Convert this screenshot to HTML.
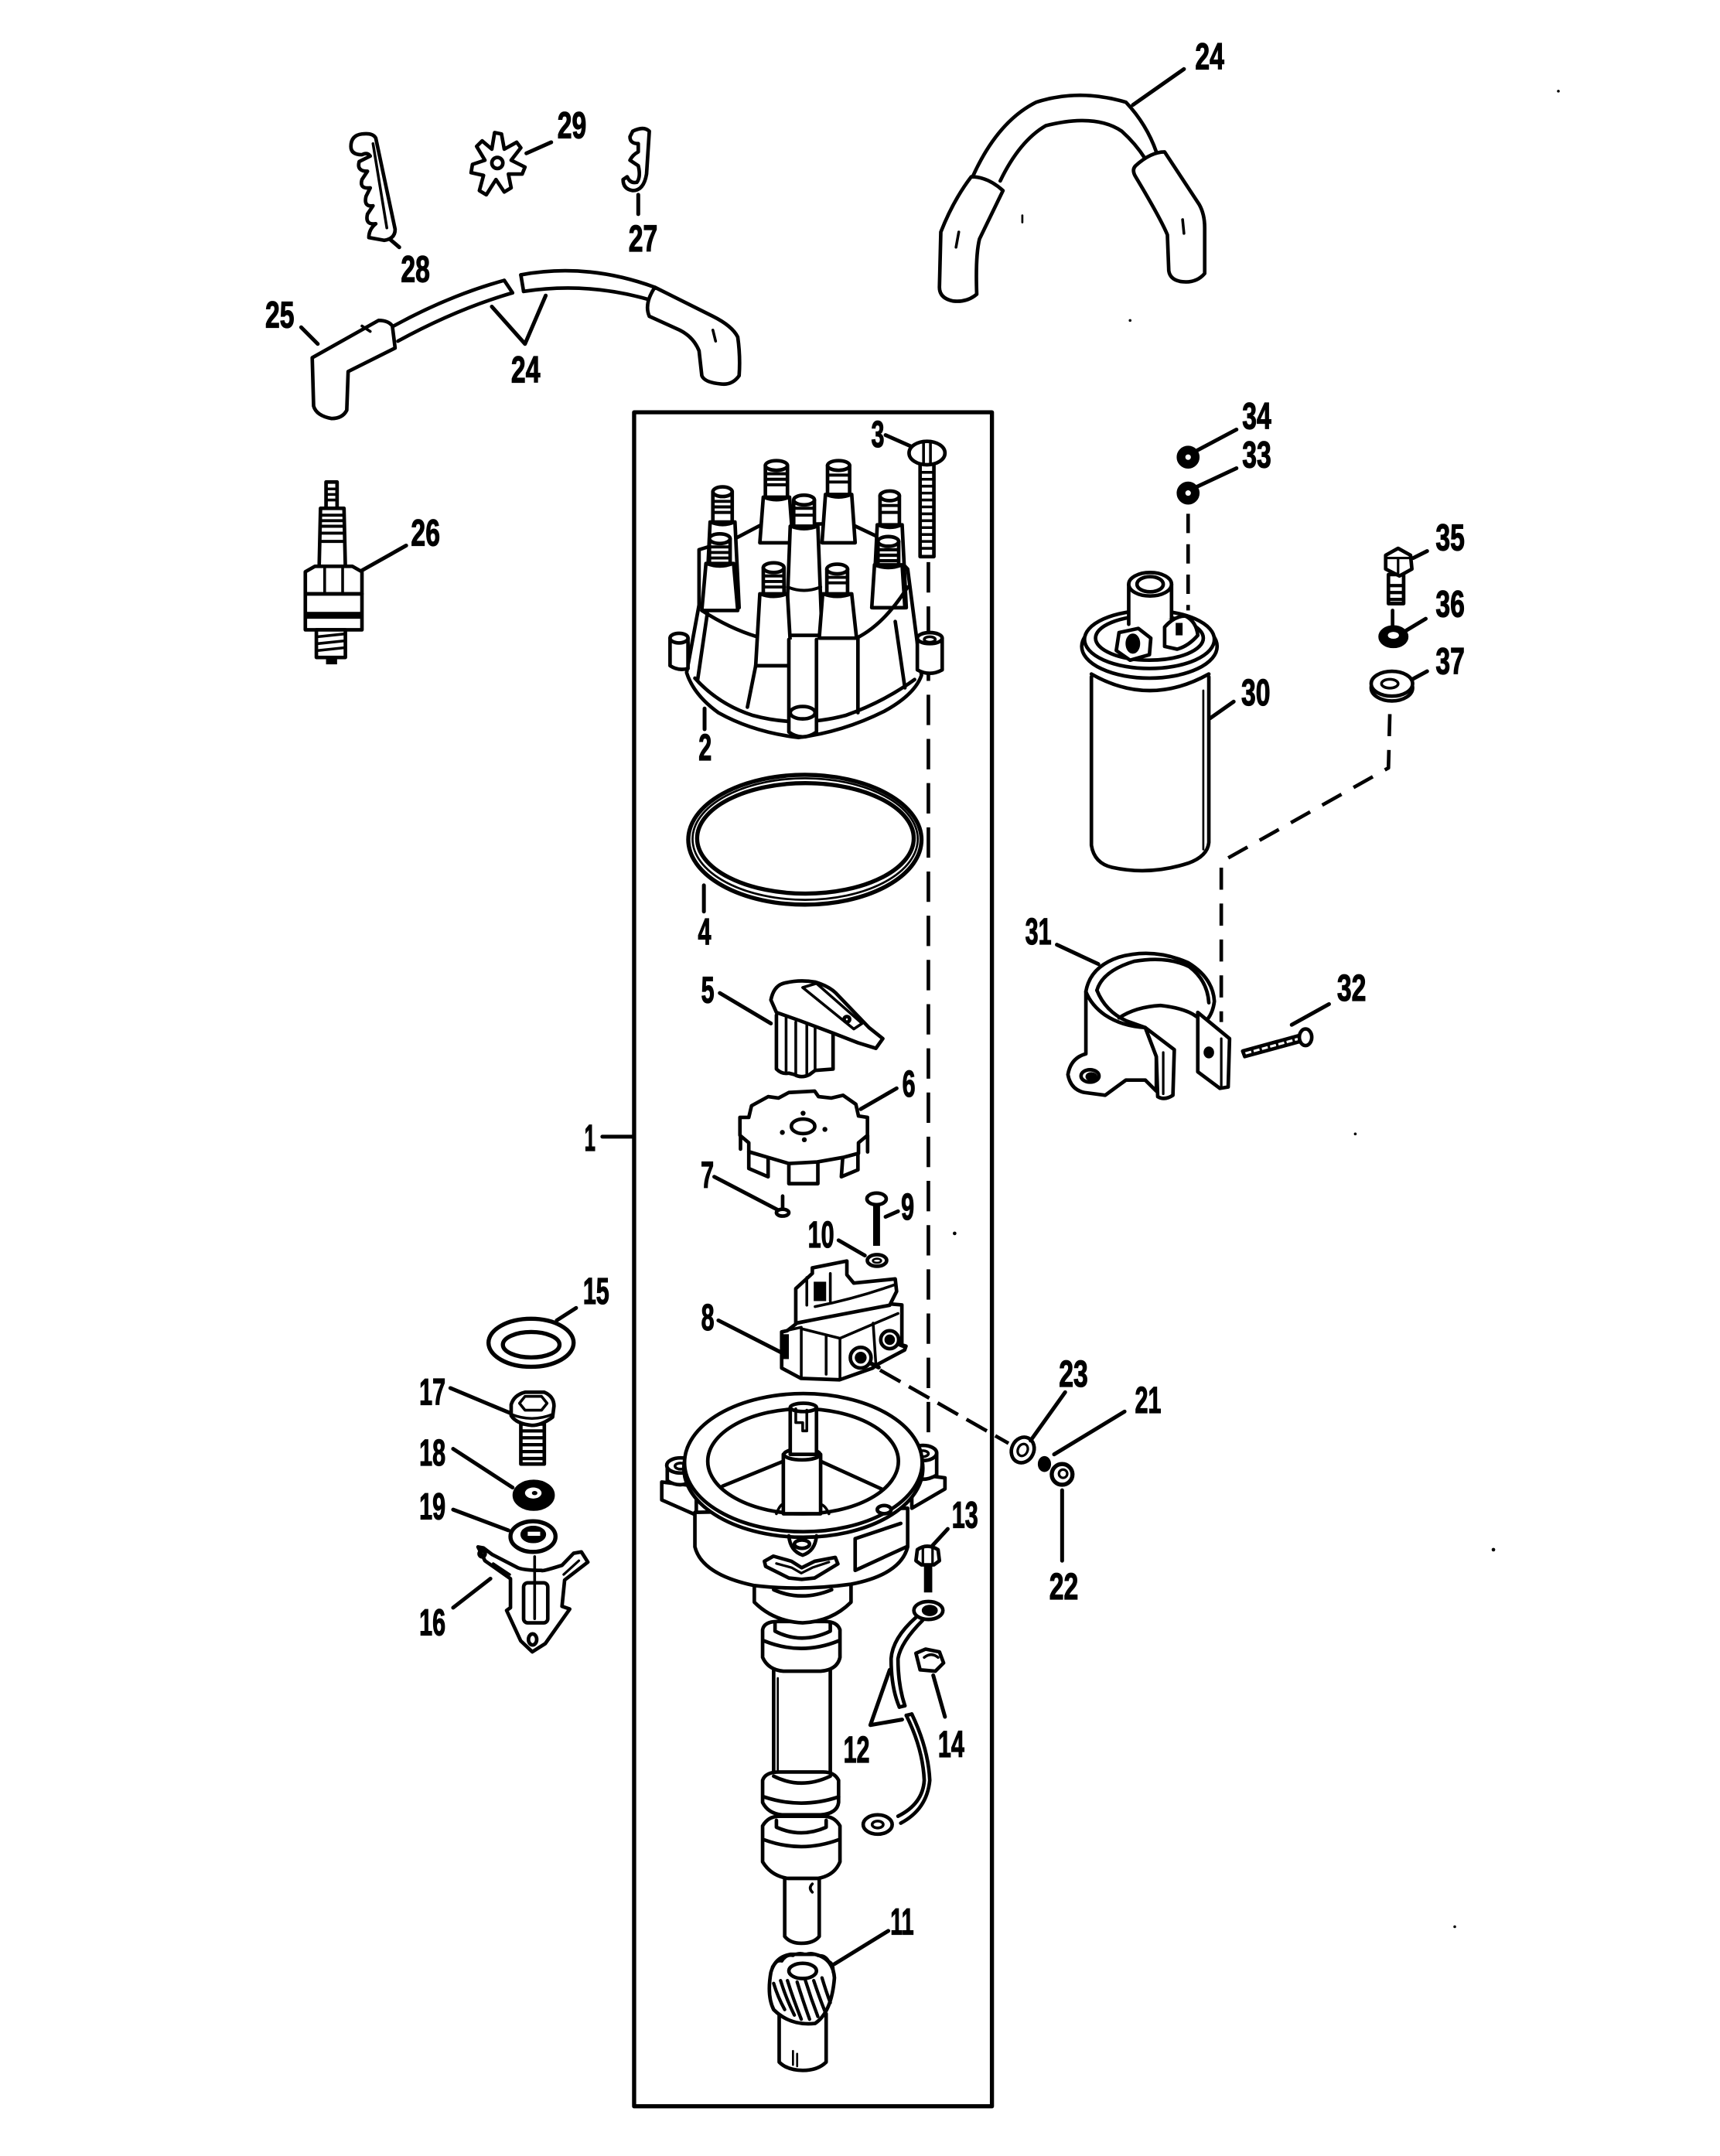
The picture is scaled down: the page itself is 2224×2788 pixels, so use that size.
<!DOCTYPE html>
<html><head><meta charset="utf-8">
<style>
html,body{margin:0;padding:0;background:#fff;}
svg{display:block;}
.t{font-family:"Liberation Sans",sans-serif;font-weight:bold;font-size:27px;text-anchor:middle;fill:#000;stroke:#000;stroke-width:0.7px;}
</style></head><body>
<svg width="2224" height="2788" viewBox="0 0 1245 1561" preserveAspectRatio="none" xmlns="http://www.w3.org/2000/svg">
<rect width="1245" height="1561" fill="#fff"/>
<g fill="none" stroke="#000" stroke-width="2.6" stroke-linecap="round" stroke-linejoin="round">

<!-- frame -->
<rect x="459" y="298.5" width="259" height="1226.5" stroke-width="3"/>

<!-- dashed lines -->
<g stroke-dasharray="22 10" stroke-linecap="butt">
<path d="M672,407 L672,1050"/>
</g>
<g stroke-dasharray="17 7" stroke-linecap="butt"><path d="M637,992 L730,1045"/></g>
<g stroke-dasharray="14 8" stroke-linecap="butt"><path d="M860,372 L860,442"/></g>
<g stroke-dasharray="16 10" stroke-linecap="butt"><path d="M1006,517 L1005,556 L884,624 L884,740"/></g>

<!-- ===== top right wire 24 ===== -->
<path d="M704,128 Q722,88 750,74 Q781,64 815,74 Q830,90 837,110"/>
<path d="M724,131 Q738,102 757,91 Q793,82 812,95 Q822,104 829,115"/>
<path fill="#fff" d="M703,128 Q715,128 726,138 L709,173 Q706,185 707,213 Q700,219 690,218 Q680,216 680,208 L681,168 Q690,145 703,128 Z"/>
<path d="M694,168 L692,179" stroke-width="2"/>
<path fill="#fff" d="M822,120 Q833,110 843,110 L868,148 Q872,155 872,165 L872,198 Q866,205 856,204 Q847,203 846,196 L845,170 Q840,158 822,128 Q819,123 822,120 Z"/>
<path d="M856,159 L857,169" stroke-width="2"/>
<path d="M740,156 L740,161" stroke-width="1.5"/>

<!-- ===== lower-left wire 24/25 ===== -->
<path d="M285,236 Q325,214 365,203"/>
<path d="M288,247 Q330,224 371,212"/>
<path d="M365,203 L371,212"/>
<path d="M377,199 Q425,190 474,208"/>
<path d="M379,211 Q425,204 470,217"/>
<path d="M377,199 L379,211"/>
<path fill="#fff" d="M226,259 L274,232 Q281,232 284,236 L286,252 L252,269 L251,297 Q248,303 240,303 Q229,301 227,294 Z"/>
<path d="M262,236 L268,240" stroke-width="2"/>
<path fill="#fff" d="M474,208 L516,229 Q530,236 534,244 Q536,258 535,272 Q530,279 522,278 Q510,277 508,272 L506,254 Q502,244 492,239 L470,229 Q466,220 474,208 Z"/>
<path d="M516,239 L518,247" stroke-width="2"/>

<!-- 28 comb -->
<path fill="#fff" d="M262,97 Q254,98 254,106 Q254,112 262,112 Q266,110 268,113 L260,117 Q258,124 266,124 L262,130 Q260,137 268,136 L265,142 Q263,150 270,149 L266,155 Q264,163 272,162 Q267,166 267,172 L278,174 Q286,173 286,166 L272,100 Q270,96 262,97 Z"/>
<path d="M270,104 L280,165" stroke-width="2"/>

<!-- 29 star -->
<path fill="#fff" d="M358,96 L363,97 L365,108 L374,103 L377,107 L370,116 L380,121 L378,126 L368,126 L370,136 L365,139 L359,130 L352,141 L347,138 L350,127 L341,125 L342,119 L351,116 L345,106 L349,102 L356,108 Z"/>
<circle cx="360" cy="118" r="4"/>

<!-- 27 clip -->
<path fill="#fff" d="M458,95 Q466,91 470,95 L468,126 Q466,138 458,138 Q451,137 451,130 L454,128 Q456,133 461,132 Q464,128 462,120 L456,116 Q458,112 462,110 L462,104 Q456,104 456,99 Z"/>

<!-- 26 spark plug -->
<rect x="236" y="349" width="8" height="19" fill="#fff"/>
<path d="M237,354 L243,354 M237,358 L243,358 M237,362 L243,362" stroke-width="2"/>
<path fill="#fff" d="M232,368 L249,368 L250,411 L231,411 Z"/>
<path d="M233,373 L248,373 M233,377 L248,377 M233,381 L248,381 M233,386 L248,386 M233,392 L248,392" stroke-width="2.2"/>
<path fill="#fff" d="M221,414 L228,410 L255,410 L262,414 L262,430 L221,430 Z"/>
<path d="M235,411 L235,430 M248,411 L248,430" stroke-width="2"/>
<rect x="221" y="430" width="41" height="26" fill="#fff"/>
<rect x="222" y="443" width="39" height="5" fill="#000" stroke="none"/>
<rect x="229" y="456" width="21" height="20" fill="#fff"/>
<path d="M230,461 L249,459 M230,466 L249,464 M230,471 L249,469" stroke-width="2"/>
<rect x="236" y="476" width="8" height="5" fill="#000" stroke="none"/>

<!-- ===== distributor cap 2 ===== -->
<path fill="#fff" d="M506,398 L532,390 L551,380 L615,379 L634,388 L657,412 L667,489 Q662,503 640,515 Q610,530 578,534 Q545,530 520,516 Q502,503 497,487 L506,438 Z"/>
<path d="M503,491 Q520,510 545,518 Q578,527 612,518 Q640,508 662,492"/>
<!-- back towers -->
<path fill="#fff" d="M514,378 L511,440 L535,440 L532,378 Z"/>
<rect x="516" y="356" width="14" height="22" fill="#fff"/>
<ellipse cx="523" cy="356" rx="7" ry="3.5" fill="#fff"/>
<path d="M517,363 L529,363 M517,367 L529,367 M517,371 L529,371 M514,378 Q523,382 532,378" stroke-width="2.2"/>

<path fill="#fff" d="M552.5,360 L550,393 L574,393 L571.5,360 Z"/>
<rect x="554" y="337" width="16" height="23" fill="#fff"/>
<ellipse cx="562" cy="337" rx="8" ry="3.5" fill="#fff"/>
<path d="M555,343 L569,343 M555,347 L569,347 M555,351 L569,351 M552.5,360 Q562,364 571.5,360" stroke-width="2.2"/>

<path fill="#fff" d="M597.5,358 L595,393 L619,393 L616.5,358 Z"/>
<rect x="599" y="337" width="16" height="21" fill="#fff"/>
<ellipse cx="607" cy="337" rx="8" ry="3.5" fill="#fff"/>
<path d="M600,344 L614,344 M600,349 L614,349 M597.5,358 Q607,362 616.5,358" stroke-width="2.2"/>

<path fill="#fff" d="M635,380 L632,440 L656,440 L653,380 Z"/>
<rect x="637" y="359" width="14" height="21" fill="#fff"/>
<ellipse cx="644" cy="359" rx="7" ry="3.5" fill="#fff"/>
<path d="M638,366 L650,366 M638,371 L650,371 M635,380 Q644,384 653,380" stroke-width="2.2"/>

<!-- center tower -->
<path fill="#fff" d="M572,381 L569,460 L595,460 L592,381 Z"/>
<rect x="574.5" y="362" width="15" height="19" fill="#fff"/>
<ellipse cx="582" cy="362" rx="7.5" ry="3.5" fill="#fff"/>
<path d="M575,368 L589,368 M575,373 L589,373 M572,381 Q582,385 592,381 M570,425 Q582,430 594,425" stroke-width="2.2"/>

<!-- front towers -->
<path fill="#fff" d="M511,408 L508,442 L534,442 L531,408 Z"/>
<rect x="513.5" y="390" width="15" height="18" fill="#fff"/>
<ellipse cx="521" cy="390" rx="7.5" ry="3.5" fill="#fff"/>
<path d="M514,396 L528,396 M514,400 L528,400 M514,404 L528,404 M511,408 Q521,412 531,408" stroke-width="2.2"/>

<path fill="#fff" d="M550,430 L547,482 L573,482 L570,430 Z"/>
<rect x="552.5" y="411" width="15" height="19" fill="#fff"/>
<ellipse cx="560" cy="411" rx="7.5" ry="3.5" fill="#fff"/>
<path d="M553,417 L567,417 M553,421 L567,421 M553,425 L567,425 M550,430 Q560,434 570,430" stroke-width="2.2"/>

<path fill="#fff" d="M595.5,430 L593,462 L620,462 L616.5,430 Z"/>
<rect x="598.5" y="412" width="15" height="18" fill="#fff"/>
<ellipse cx="606" cy="412" rx="7.5" ry="3.5" fill="#fff"/>
<path d="M599,418 L613,418 M599,422 L613,422 M595.5,430 Q606,434 616.5,430" stroke-width="2.2"/>

<path fill="#fff" d="M633,409 L631,440 L655,440 L653,409 Z"/>
<rect x="635.5" y="392" width="15" height="17" fill="#fff"/>
<ellipse cx="643" cy="392" rx="7.5" ry="3.5" fill="#fff"/>
<path d="M636,398 L650,398 M636,402 L650,402 M636,406 L650,406 M633,409 Q643,413 653,409" stroke-width="2.4"/>

<!-- shoulder & skirt lines -->
<path d="M508,442 Q528,455 548,461 M620,462 Q640,452 657,425"/>
<path d="M512,444 L505,492 M547,482 L541,512 M621,462 L621,516 M648,450 L655,498"/>
<!-- boss -->
<path fill="#fff" d="M571,463 L571,530 Q581,537 591,530 L591,463"/>
<ellipse cx="581" cy="516" rx="9" ry="4.5"/>
<!-- ears -->
<path fill="#fff" d="M485,462 L485,482 Q491,486 498,484 L498,462"/>
<ellipse cx="491.5" cy="462" rx="6.5" ry="3.5" fill="#fff"/>
<path fill="#fff" d="M664,462 L664,485 Q673,490 682,485 L682,462"/>
<ellipse cx="673" cy="462" rx="9" ry="4" fill="#fff"/>
<ellipse cx="673" cy="463" rx="4" ry="2" stroke-width="2"/>

<!-- screw 3 -->
<rect x="666" y="336" width="10" height="67" fill="#fff"/>
<path d="M667,342 L675,342 M667,347 L675,347 M667,352 L675,352 M667,357 L675,357 M667,362 L675,362 M667,367 L675,367 M667,372 L675,372 M667,377 L675,377 M667,382 L675,382 M667,387 L675,387 M667,392 L675,392 M667,397 L675,397" stroke-width="2"/>
<ellipse cx="671" cy="328" rx="13" ry="8.5" fill="#fff"/>
<path d="M668.5,320 L668.5,336 M673.5,320 L673.5,336" stroke-width="2"/>

<!-- ===== ring 4 ===== -->
<ellipse cx="582.6" cy="608" rx="84.4" ry="47" stroke-width="3"/>
<ellipse cx="582.8" cy="607.5" rx="81.5" ry="44" stroke-width="1.5"/>
<ellipse cx="583" cy="607" rx="78.4" ry="40" stroke-width="3"/>

<!-- ===== rotor 5 ===== -->
<path fill="#fff" d="M562,735 L562,774 Q566,778 571,777 L575,778 Q580,781 586,778 L590,775 L603,774 L603,748"/>
<path d="M569,737 L569,776 M576,740 L576,778 M584,742 L584,778 M590,744 L590,775" stroke-width="2"/>
<path fill="#fff" d="M558,724 Q560,714 567,712 Q578,709 590,711 Q600,714 605,719 L629,744 L639,752 L634,759 L621,755 L603,748 L579,739 L562,733 Z"/>
<path d="M581,715 L591,712 L624,741 L618,745 Z" stroke-width="2"/>
<circle cx="613" cy="738" r="2"/>

<!-- ===== plate 6 ===== -->
<path fill="#fff" d="M542,834 L542,846 L556,852 L556,838 Z"/>
<path fill="#fff" d="M571,842 L571,857 L592,857 L592,841 Z"/>
<path fill="#fff" d="M610,838 L609,852 L621,847 L621,835 Z"/>
<path d="M628,822 L628,834 M536,822 L536,832"/>
<path fill="#fff" d="M535.6,809 L542,809 L544,800.6 L556,794 L563.5,795 L571,791 L589.7,790 L592.5,794 L601.8,795 L610.2,793 L619.5,799.5 L621.4,808 L627.9,809 L627.9,822 L621.4,827.4 L621.4,835 L610.2,838 L591.5,841.3 L571,842.4 L556,838 L542,833.8 L542,827.4 L535.6,822 Z"/>
<ellipse cx="581.3" cy="815.5" rx="8.5" ry="5.3"/>
<g fill="#000" stroke="none"><circle cx="581.3" cy="806" r="1.8"/><circle cx="566.3" cy="819.9" r="1.8"/><circle cx="597.1" cy="817.7" r="1.8"/><circle cx="582.2" cy="825.2" r="1.8"/></g>

<!-- 7 pin -->
<path d="M566.5,866 L566.5,875"/>
<ellipse cx="566.5" cy="878" rx="4.5" ry="2.5" fill="#fff"/>

<!-- 9 screw & 10 washer -->
<path d="M634.5,872 L634.5,902" stroke-width="5" stroke-linecap="butt"/>
<ellipse cx="634.5" cy="868" rx="7" ry="4.2" fill="#fff"/>
<ellipse cx="634.8" cy="912.6" rx="7" ry="4.2"/>
<ellipse cx="634.8" cy="912.8" rx="3" ry="1.5" stroke-width="1.5"/>

<!-- ===== module 8 ===== -->
<path fill="#fff" d="M565.8,985 L565.8,964.4 L569.8,963.5 L576.8,958 L643.8,944 L652.8,944.8 L652.8,973.7 L655.8,974.6 L654.8,977.4 L633.8,988.6 L631.8,990.5 L607.8,999 L579.8,998 L565.8,990.5 Z"/>
<path fill="#fff" d="M576,958 L576,933 L588,922 L588,918 L613,913 L613,923 L618,929 L648,926 L649,935 L644,945 Z"/>
<path d="M566,964 L580,961 L580,998 M580,962 L608,969 L608,999 M608,969 L650,951 M598,967 L598,995 M632,958 L634,988" stroke-width="2"/>
<path d="M590,946 Q620,940 648,930" stroke-width="2"/>
<path d="M584,925 L584,945 M601,922 L601,942" stroke-width="2"/>
<rect x="589" y="928" width="9" height="14" fill="#000" stroke="none"/>
<rect x="567" y="966" width="4" height="18" fill="#000" stroke="none"/>
<circle cx="623" cy="983" r="7.5" fill="#fff"/>
<circle cx="623" cy="983" r="3" fill="#000"/>
<circle cx="644" cy="970" r="6.5" fill="#fff"/>
<circle cx="644" cy="970" r="2.5" fill="#000"/>
<path d="M630,987 L636,990 M650,973 L655,975" stroke-width="3"/>

<!-- 23 21 22 -->
<ellipse cx="740.3" cy="1049.8" rx="8" ry="9.5" transform="rotate(25 740.3 1049.8)" fill="#fff"/>
<ellipse cx="740.3" cy="1049.8" rx="3.5" ry="4.5" transform="rotate(25 740.3 1049.8)" stroke-width="1.8"/>
<ellipse cx="756" cy="1060" rx="3.5" ry="4.5" fill="#000"/>
<circle cx="768.8" cy="1067.5" r="7.5" fill="#fff" stroke-width="3"/>
<circle cx="769.5" cy="1067" r="3" stroke-width="1.8"/>

<!-- 13 bolt -->
<path d="M671.8,1132 L671.8,1153" stroke-width="6" stroke-linecap="butt"/>
<path fill="#fff" d="M664,1122 Q671,1117 679,1122 L680,1130 L676,1133 L667,1133 L663,1130 Z"/>
<path d="M668,1120 L668,1132 M675,1120 L675,1132" stroke-width="1.8"/>

<!-- ===== lower shaft ===== -->
<path fill="#fff" d="M564,1458 L564,1493 Q570,1499 581,1499 Q592,1499 598,1493 L598,1458 Z"/>
<path d="M574,1485 L574,1495 M577,1487 L577,1496" stroke-width="1.5"/>
<path fill="#fff" d="M558,1428 Q555,1445 560,1455 Q572,1467 590,1465 Q602,1457 604,1432 Q603,1418 590,1415 L572,1415 Q561,1417 558,1428 Z"/>
<path d="M559,1424 Q562,1419 566,1420 Q569,1415 574,1416 Q578,1413 583,1415 Q588,1413 592,1416 Q597,1415 600,1420 Q604,1422 603,1428" stroke-width="2"/>
<ellipse cx="581" cy="1427" rx="10" ry="5.5"/>
<path d="M560,1436 Q563,1446 568,1455 M565,1434 Q569,1447 575,1459 M570,1434 Q574,1447 580,1462 M577,1435 Q581,1448 586,1462 M583,1434 Q587,1447 592,1460 M589,1434 Q593,1446 597,1456 M595,1432 Q598,1442 601,1450" stroke-width="2.4"/>

<path fill="#fff" d="M568,1359 L568,1402 Q572,1407 580,1407 Q589,1407 593,1402 L593,1359 Z"/>
<path d="M588,1364 Q585,1367 588,1370" stroke-width="2"/>
<path fill="#fff" d="M552,1322 L552,1348 Q558,1358 570,1360 L592,1360 Q604,1358 608,1348 L608,1322 Q604,1315 596,1315 L564,1315 Q556,1315 552,1322 Z"/>
<path d="M562,1318 L562,1323 Q580,1331 598,1323 L598,1318 M553,1332 Q580,1342 607,1332"/>
<rect x="560" y="1205" width="41" height="85" fill="#fff"/>
<path d="M563,1215 L563,1285" stroke-width="1.5"/>
<path fill="#fff" d="M552,1289 L552,1305 Q556,1313 566,1314 L594,1314 Q606,1313 607,1305 L607,1289 Q604,1283 596,1283 L564,1283 Q554,1283 552,1289 Z"/>
<path d="M560,1286 Q580,1296 601,1286 M553,1301 Q580,1310 607,1301"/>
<path fill="#fff" d="M552,1180 L552,1200 Q556,1209 567,1210 L594,1210 Q606,1209 608,1200 L608,1180 Q606,1174 597,1174 L563,1174 Q553,1174 552,1180 Z"/>
<path d="M553,1188 Q580,1199 607,1188 M561,1175 L561,1181 Q580,1191 601,1181 L601,1175"/>
<path fill="#fff" d="M546,1146 L546,1160 Q560,1174 581,1175 Q602,1174 616,1160 L616,1146 Z"/>
<path d="M560,1151 Q580,1160 602,1151"/>

<!-- ===== housing ===== -->
<path fill="#fff" d="M479,1073 L479,1086 L504,1097 L504,1076 Z"/>
<path fill="#fff" d="M483,1061 L483,1072 Q492,1078 502,1072 L502,1061"/>
<ellipse cx="492.6" cy="1061" rx="10" ry="5.5" fill="#fff"/>
<ellipse cx="492.6" cy="1061.5" rx="4" ry="2.2" stroke-width="2"/>
<path fill="#fff" d="M660,1067 L684,1070 L684,1078 L660,1092 Z"/>
<path fill="#fff" d="M658,1052 L658,1068 Q668,1074 678,1068 L678,1052"/>
<ellipse cx="668" cy="1052" rx="10" ry="5.5" fill="#fff"/>
<ellipse cx="668" cy="1052.5" rx="4" ry="2.2" stroke-width="2"/>

<path fill="#fff" d="M503,1095 L503,1120 Q508,1140 546,1148 Q580,1152 616,1147 Q652,1140 657,1120 L657,1092 Z"/>
<ellipse cx="581.5" cy="1063" rx="86.5" ry="50" fill="#fff"/>
<ellipse cx="581.5" cy="1059" rx="86" ry="50" fill="#fff"/>
<ellipse cx="581.3" cy="1058" rx="69" ry="38" fill="#fff"/>
<path d="M523,1076 L567,1058 M594,1058 L638,1078"/>
<path d="M562,1096 Q565,1088 568,1089 M593,1089 Q597,1089 600,1096" stroke-width="2"/>
<rect x="567" y="1053" width="27" height="43" fill="#fff"/>
<ellipse cx="580.5" cy="1053" rx="13" ry="4" fill="#fff"/>
<rect x="572" y="1019" width="19" height="34" fill="#fff"/>
<ellipse cx="581.5" cy="1019" rx="9.5" ry="3" fill="#fff"/>
<path d="M576,1020 L576,1030 L581,1030 L581,1036 L584,1036 L584,1021" stroke-width="2"/>
<path d="M553.3,1130.4 L559.8,1126.7 L572.9,1130.4 L580.3,1135.1 L589.7,1130.4 L604.6,1127.6 L606.5,1132.3 L589.7,1142.5 L580.3,1143.5 L571,1142.5 L554.2,1134.1 Z"/>
<path d="M562,1132 L573,1135 L580,1139 L588,1135 L600,1131" stroke-width="1.8"/>
<path d="M619,1114 L619,1137 L656,1120 M619,1114 L652,1103"/>
<path d="M571,1112 Q572,1123 581,1126 Q590,1123 591,1112"/>
<ellipse cx="580.5" cy="1118" rx="5.5" ry="3"/>
<ellipse cx="640" cy="1093" rx="5" ry="3" fill="#fff"/>

<!-- 12 strap -->
<path d="M663,1171 Q646,1186 645,1201 Q645,1222 651,1236"/>
<path d="M668,1173 Q652,1189 650,1201 Q650,1220 655,1235"/>
<path d="M651,1236 L655,1235"/>
<path d="M656,1242 Q668,1266 669,1289 Q668,1306 650,1315"/>
<path d="M660,1241 Q672,1266 673,1289 Q671,1310 652,1320"/>
<path d="M656,1242 L660,1241"/>
<ellipse cx="672" cy="1166" rx="10.5" ry="6.5" fill="#fff"/>
<ellipse cx="673" cy="1166" rx="4.5" ry="2.8" fill="#000"/>
<ellipse cx="635.3" cy="1321" rx="10.5" ry="7" fill="#fff"/>
<ellipse cx="635.3" cy="1321" rx="4" ry="2.5" stroke-width="2"/>

<!-- 14 nut -->
<path fill="#fff" d="M663,1197 L670,1194 L680,1196 L683,1204 L677,1210 L666,1209 Z"/>
<path d="M669,1200 Q674,1196 679,1200" stroke-width="2"/>

<!-- ===== coil 30 ===== -->
<path fill="#fff" d="M790,490 L790,612 Q792,625 805,628 Q832,634 860,625 Q874,620 875,610 L875,490"/>
<path d="M871,500 L871,615" stroke-width="1.5"/>
<ellipse cx="832" cy="468" rx="49" ry="23" fill="#fff"/>
<path d="M790,488 Q832,512 875,488"/>
<ellipse cx="832" cy="463" rx="47" ry="21" fill="#fff"/>
<ellipse cx="832" cy="462" rx="39" ry="16"/>
<path fill="#fff" d="M817,423 L817,452 L848,448 L848,423 Z" stroke="none"/>
<path d="M817,423 L817,452 M848,423 L848,448"/>
<ellipse cx="832.5" cy="423" rx="15.5" ry="8.5" fill="#fff"/>
<ellipse cx="832.5" cy="423" rx="9.5" ry="5.5"/>
<path fill="#fff" d="M810,458 L824,455 L833,462 L832,474 L818,478 L808,471 Z"/>
<ellipse cx="820" cy="466" rx="4" ry="6" fill="#000"/>
<path fill="#fff" d="M843,468 L843,454 Q850,446 858,446 Q866,450 867,460 Q860,468 852,470 Z"/>
<rect x="851" y="451" width="5" height="9" fill="#000" stroke="none"/>

<!-- 34 33 -->
<circle cx="860" cy="331" r="7" fill="#000"/>
<circle cx="860" cy="331" r="2" fill="#fff" stroke="none"/>
<circle cx="860" cy="357" r="7" fill="#000"/>
<circle cx="860" cy="357" r="2" fill="#fff" stroke="none"/>

<!-- 35 36 37 -->
<rect x="1005" y="416" width="11" height="21" fill="#fff"/>
<path d="M1006,424 L1015,424 M1006,429 L1015,429 M1006,434 L1015,434" stroke-width="2.4"/>
<path fill="#fff" d="M1003,402 L1012,397 L1021,402 L1022,412 L1013,417 L1003,412 Z"/>
<path d="M1012,404 L1012,416 M1003,404 L1021,404" stroke-width="1.8"/>
<path d="M1008,442 L1008,454"/>
<ellipse cx="1008.6" cy="461" rx="9.6" ry="7" fill="#000"/>
<ellipse cx="1008.6" cy="460" rx="4" ry="2.5" fill="#fff" stroke="none"/>
<ellipse cx="1007.5" cy="498" rx="15" ry="9.5" fill="#fff"/>
<ellipse cx="1007.5" cy="495" rx="15" ry="9" fill="#fff"/>
<ellipse cx="1006" cy="495" rx="6" ry="3.2" stroke-width="2"/>

<!-- ===== clamp 31 ===== -->
<path fill="#fff" d="M786,718 L786,763 Q775,766 773,778 Q775,789 785,791 L800,793 Q808,787 815,782 L829,782 L837,790 L837,765 L829,744 Q812,743 800,735 Q790,728 786,718 Z"/>
<path fill="#fff" d="M829,744 L850,760 L849,793 Q843,797 838,794 L837,765 Z"/>
<path d="M842,762 L842,792" stroke-width="1.8"/>
<path fill="#fff" d="M867,733 L890,752 L889,787 L883,788 L867,776 Z"/>
<path d="M884,752 L884,786" stroke-width="1.8"/>
<ellipse cx="875" cy="762" rx="2.5" ry="3" fill="#000"/>
<path d="M786,718 Q789,700 810,693 Q835,686 860,697 Q878,708 879,725 Q878,733 874,738"/>
<path d="M794,717 Q798,703 821,696 Q845,692 861,700 Q874,710 875,726"/>
<path d="M810,737 Q822,729 840,728 Q858,730 866,736"/>
<path d="M794,717 Q800,732 815,739 L829,744"/>
<ellipse cx="789" cy="779" rx="6.5" ry="4.5"/>
<ellipse cx="790" cy="779.5" rx="3" ry="2" fill="#000"/>

<!-- 32 screw -->
<path fill="#fff" d="M899.5,761 L943,749 L945,753 L901,765 Z"/>
<path d="M906,759 L907,763 M912,757.5 L913,761.5 M918,756 L919,760 M924,754.5 L925,758.5 M930,753 L931,757 M936,751.5 L937,755.5" stroke-width="1.8"/>
<ellipse cx="945" cy="751" rx="4.5" ry="6" fill="#fff"/>

<!-- ===== left parts ===== -->
<ellipse cx="384.4" cy="972.2" rx="30.8" ry="17.4" stroke-width="3"/>
<ellipse cx="384.5" cy="973.6" rx="20.5" ry="9.2" stroke-width="3"/>

<rect x="377" y="1031" width="17" height="29" fill="#fff"/>
<path d="M378,1036 L393,1036 M378,1041 L393,1041 M378,1046 L393,1046 M378,1051 L393,1051 M378,1056 L393,1056" stroke-width="2.4"/>
<path fill="#fff" d="M370,1017 Q372,1010 380,1008 L394,1008 Q401,1011 401,1018 L400,1026 Q392,1032 385,1032 Q374,1031 370,1025 Z"/>
<path d="M376,1016 L380,1011 L392,1011 L396,1016 L392,1021 L380,1021 Z M370,1024 Q385,1030 400,1024" stroke-width="2"/>

<ellipse cx="386.3" cy="1082.6" rx="14" ry="10" fill="#000"/>
<ellipse cx="386" cy="1081" rx="6" ry="4" fill="#fff" stroke="none"/>
<ellipse cx="387" cy="1081" rx="2" ry="1.5" fill="#000" stroke="none"/>

<ellipse cx="385.8" cy="1112.5" rx="16.3" ry="11.1" fill="#fff" stroke-width="3"/>
<ellipse cx="386" cy="1111" rx="8" ry="5" fill="#000"/>
<rect x="382" y="1109" width="9" height="3" fill="#fff" stroke="none"/>

<path fill="#fff" d="M346,1120 L351,1130 L369.5,1143 L369.5,1164 L366.7,1166 L376.9,1188 L385.3,1196 L394.7,1190 L412.4,1165 L406.8,1163 L408.7,1144 L425.5,1131 L420.8,1123.6 L415.2,1124.6 L406.8,1133.3 Q392,1138 391.9,1137 Q380,1137 375.1,1135.2 L356.4,1125.6 L349.9,1120.7 Z"/>
<path d="M357,1132 L369,1140 M408,1140 L419,1130" stroke-width="1.8"/>
<circle cx="349" cy="1125" r="2.2"/>
<rect x="379" y="1146" width="17.5" height="29" rx="3" fill="#fff"/>
<path d="M387,1127 L387,1172" stroke-width="2"/>
<ellipse cx="385.5" cy="1187" rx="3" ry="4"/>

<!-- ===== leader lines ===== -->
<g stroke-width="2.8">
<path d="M857,50 L820,76"/>
<path d="M399,103 L381,111"/>
<path d="M282,173 L289,179"/>
<path d="M462,141 L462,155"/>
<path d="M218,237 L230,249"/>
<path d="M356,222 L380,249 L395,214"/>
<path d="M294,395 L262,413"/>
<path d="M641,315 L659,323"/>
<path d="M895,311 L863,328"/>
<path d="M895,339 L863,354"/>
<path d="M1033,399 L1023,404"/>
<path d="M1032,448 L1017,457"/>
<path d="M1033,486 L1022,492"/>
<path d="M893,508 L876,520"/>
<path d="M510,513 L510,528"/>
<path d="M509.5,641 L509.5,660"/>
<path d="M765,684 L795,698"/>
<path d="M962,727 L935,742"/>
<path d="M521,719 L558,741"/>
<path d="M649,788 L623,803"/>
<path d="M436,823 L459,823"/>
<path d="M517,852 L563,876"/>
<path d="M641,881 L650,877"/>
<path d="M607,898 L626,909"/>
<path d="M417,947 L403,956"/>
<path d="M520,956 L565,979"/>
<path d="M771,1008 L746,1043"/>
<path d="M814,1022 L763,1053"/>
<path d="M326,1005 L369,1023"/>
<path d="M328,1049 L371,1077"/>
<path d="M686,1107 L675,1119"/>
<path d="M328,1093 L368,1108"/>
<path d="M768.8,1079 L768.8,1130"/>
<path d="M328,1164 L355,1143"/>
<path d="M630,1249 L644,1209 M630,1249 L653,1245"/>
<path d="M675.5,1213 L684,1243"/>
<path d="M643,1398 L604,1422"/>
</g>
</g>

<!-- specks -->
<g fill="#000">
<circle cx="691" cy="893" r="1.3"/>
<circle cx="1081" cy="1122" r="1.3"/>
<circle cx="1053" cy="1395" r="1"/>
<circle cx="1128" cy="66" r="1"/>
<circle cx="981" cy="821" r="1"/>
<circle cx="818" cy="232" r="1"/>
</g>

<!-- ===== labels ===== -->
<g class="t">
<text x="875.6" y="50" textLength="21" lengthAdjust="spacingAndGlyphs">24</text>
<text x="414" y="100" textLength="21" lengthAdjust="spacingAndGlyphs">29</text>
<text x="300.7" y="204" textLength="21" lengthAdjust="spacingAndGlyphs">28</text>
<text x="465.5" y="182" textLength="21" lengthAdjust="spacingAndGlyphs">27</text>
<text x="202.5" y="237" textLength="21" lengthAdjust="spacingAndGlyphs">25</text>
<text x="380.5" y="277" textLength="21" lengthAdjust="spacingAndGlyphs">24</text>
<text x="308" y="395" textLength="21" lengthAdjust="spacingAndGlyphs">26</text>
<text x="635.4" y="323.6" textLength="9.5" lengthAdjust="spacingAndGlyphs">3</text>
<text x="909.7" y="310.5" textLength="21" lengthAdjust="spacingAndGlyphs">34</text>
<text x="909.7" y="338.6" textLength="21" lengthAdjust="spacingAndGlyphs">33</text>
<text x="1049.7" y="398.4" textLength="21" lengthAdjust="spacingAndGlyphs">35</text>
<text x="1049.7" y="446.5" textLength="21" lengthAdjust="spacingAndGlyphs">36</text>
<text x="1049.7" y="488" textLength="21" lengthAdjust="spacingAndGlyphs">37</text>
<text x="909" y="510.6" textLength="21" lengthAdjust="spacingAndGlyphs">30</text>
<text x="510.4" y="550.3" textLength="9.5" lengthAdjust="spacingAndGlyphs">2</text>
<text x="510" y="684" textLength="9.5" lengthAdjust="spacingAndGlyphs">4</text>
<text x="751.6" y="683.6" textLength="19" lengthAdjust="spacingAndGlyphs">31</text>
<text x="978.3" y="724.6" textLength="21" lengthAdjust="spacingAndGlyphs">32</text>
<text x="512.3" y="726" textLength="9.5" lengthAdjust="spacingAndGlyphs">5</text>
<text x="657.8" y="794" textLength="9.5" lengthAdjust="spacingAndGlyphs">6</text>
<text x="427" y="833" textLength="8" lengthAdjust="spacingAndGlyphs">1</text>
<text x="512" y="860" textLength="9.5" lengthAdjust="spacingAndGlyphs">7</text>
<text x="657" y="883" textLength="9.5" lengthAdjust="spacingAndGlyphs">9</text>
<text x="594.3" y="903" textLength="19" lengthAdjust="spacingAndGlyphs">10</text>
<text x="431.5" y="944" textLength="19" lengthAdjust="spacingAndGlyphs">15</text>
<text x="512.3" y="963" textLength="9.5" lengthAdjust="spacingAndGlyphs">8</text>
<text x="777" y="1004" textLength="21" lengthAdjust="spacingAndGlyphs">23</text>
<text x="831" y="1023" textLength="19" lengthAdjust="spacingAndGlyphs">21</text>
<text x="313" y="1017" textLength="19" lengthAdjust="spacingAndGlyphs">17</text>
<text x="313" y="1061" textLength="19" lengthAdjust="spacingAndGlyphs">18</text>
<text x="313" y="1100" textLength="19" lengthAdjust="spacingAndGlyphs">19</text>
<text x="698.5" y="1106" textLength="19" lengthAdjust="spacingAndGlyphs">13</text>
<text x="770" y="1158" textLength="21" lengthAdjust="spacingAndGlyphs">22</text>
<text x="313" y="1184" textLength="19" lengthAdjust="spacingAndGlyphs">16</text>
<text x="620" y="1276" textLength="19" lengthAdjust="spacingAndGlyphs">12</text>
<text x="688.5" y="1272" textLength="19" lengthAdjust="spacingAndGlyphs">14</text>
<text x="653" y="1400.5" textLength="17" lengthAdjust="spacingAndGlyphs">11</text>
</g>
</svg>
</body></html>
